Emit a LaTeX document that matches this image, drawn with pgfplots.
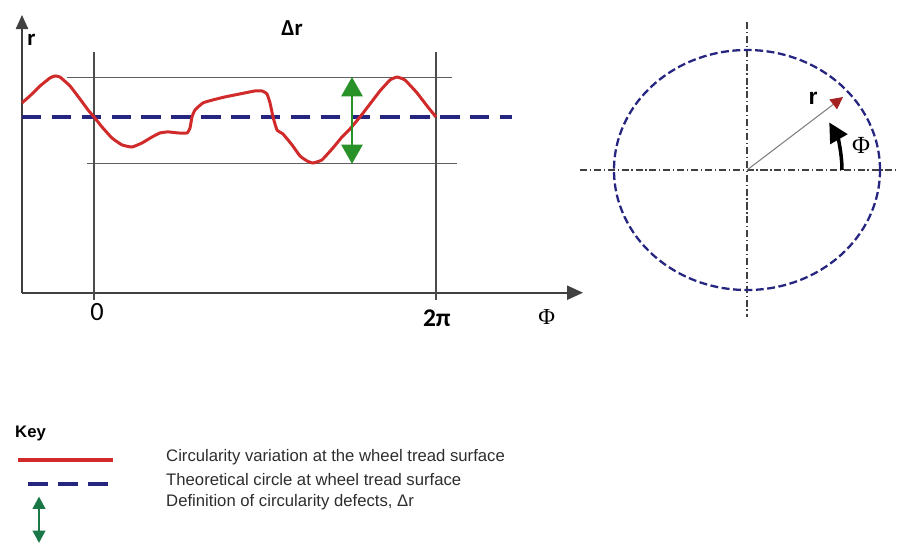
\documentclass[border=0pt]{standalone}
\usepackage{fontspec}
\setmainfont{Liberation Sans}
\newfontfamily\carlito{Carlito}
\newfontfamily\serifphi{Liberation Serif}
\usepackage{pgfplots}
\pgfplotsset{compat=1.18}
\usetikzlibrary{arrows.meta}

\definecolor{wavered}{RGB}{208,42,42}
\definecolor{navy}{RGB}{38,38,128}
\definecolor{arrowgreen}{RGB}{40,145,40}
\definecolor{keygreen}{RGB}{25,120,70}
\definecolor{guide}{RGB}{95,95,95}
\definecolor{txt}{RGB}{45,45,45}

\begin{document}
\begin{tikzpicture}
\useasboundingbox (0,0) rectangle (17.94cm,-10.84cm);

% left: radius over angle
\begin{axis}[
    at={(0.44cm,-5.854cm)}, anchor=south west,
    scale only axis, width=11.22cm, height=5.554cm,
    xmin=-1.323, xmax=8.984, ymin=0, ymax=1.580,
    axis lines=left, xtick=\empty, ytick=\empty,
    axis line style={line width=0.9pt, draw=black!75},
    x axis line style={-{Triangle[length=9pt,width=8pt]}},
    y axis line style={-{Triangle[length=8pt,width=7pt]}},
    clip=false,
]
\addplot[guide, line width=0.6pt] coordinates {(-0.496,1.227) (6.577,1.227)};
\addplot[guide, line width=0.6pt] coordinates {(-0.129,0.733) (6.669,0.733)};
\addplot[black!70, line width=0.7pt] coordinates {(0,1.370) (0,-0.042)};
\addplot[black!70, line width=0.7pt] coordinates {(6.283,1.370) (6.283,-0.042)};
\addplot[navy, line width=2.3pt, dash pattern=on 11pt off 6pt] coordinates {(-1.323,1) (7.680,1)};
\addplot[wavered, line width=1.7pt, smooth, tension=0.25] coordinates {
    (-1.323,1.080) (-1.176,1.120) (-0.992,1.176) (-0.808,1.222) (-0.717,1.233)
    (-0.625,1.227) (-0.441,1.176) (-0.257,1.102) (-0.110,1.040) (0,1.0)
    (0.147,0.943) (0.331,0.880) (0.514,0.841) (0.698,0.829) (0.882,0.852)
    (1.066,0.886) (1.213,0.909) (1.360,0.915) (1.543,0.909) (1.709,0.909)
    (1.764,0.937) (1.800,1.0) (1.856,1.040) (2.003,1.080) (2.186,1.097)
    (2.407,1.114) (2.682,1.131) (2.958,1.148) (3.087,1.148) (3.178,1.131)
    (3.234,1.080) (3.289,1.0) (3.362,0.926) (3.472,0.903) (3.638,0.841)
    (3.785,0.778) (3.913,0.750) (4.024,0.738) (4.189,0.756) (4.391,0.824)
    (4.556,0.886) (4.703,0.932) (4.887,1.0) (5.071,1.074) (5.254,1.148)
    (5.438,1.210) (5.567,1.227) (5.714,1.210) (5.934,1.137) (6.118,1.063)
    (6.283,1.0)};
\addplot[arrowgreen, line width=1.6pt,
    {Triangle[length=11pt,width=12pt]}-{Triangle[length=11pt,width=12pt]}]
    coordinates {(4.740,0.733) (4.740,1.227)};
\node[font=\carlito\bfseries\fontsize{13}{13}\selectfont] at (axis cs:-1.15,1.44) {r};
\node[font=\carlito\bfseries\fontsize{13}{13}\selectfont] at (axis cs:3.638,1.507) {Δr};
\node[font=\carlito\fontsize{15}{15}\selectfont] at (axis cs:0.055,-0.110) {0};
\node[font=\carlito\bfseries\fontsize{14.5}{15}\selectfont] at (axis cs:6.30,-0.144) {2π};
\node[font=\serifphi\fontsize{13}{13}\selectfont] at (axis cs:8.32,-0.138) {Φ};
\end{axis}

% right: the wheel circle
\begin{axis}[
    at={(11.6cm,-6.34cm)}, anchor=south west,
    scale only axis, width=6.34cm, height=5.9cm,
    xmin=-167, xmax=150, ymin=-147, ymax=148,
    hide axis, clip=false,
]
\addplot[black!75, line width=0.7pt, dash pattern=on 4pt off 1.6pt on 0.7pt off 1.6pt]
    coordinates {(-167,0) (150,0)};
\addplot[black!75, line width=0.7pt, dash pattern=on 4pt off 1.6pt on 0.7pt off 1.6pt]
    coordinates {(0,148) (0,-147)};
\draw[navy, line width=1.3pt, dash pattern=on 4.5pt off 2pt]
    (axis cs:0,0) ellipse [x radius=2.66cm, y radius=2.4cm];
\addplot[guide!80, line width=0.6pt, -{Triangle[length=7pt,width=7pt,color=wavered!80!black]}]
    coordinates {(0,0) (96,73)};
\draw[black, line width=2pt, -{Triangle[length=11pt,width=11pt]}]
    (axis cs:95,0) arc[start angle=0, end angle=30, radius=1.9cm];
\node[font=\bfseries\fontsize{13}{13}\selectfont] at (axis cs:66,72) {r};
\node[font=\serifphi\fontsize{14}{14}\selectfont] at (axis cs:114,25) {Φ};
\end{axis}

% key
\node[anchor=west, font=\bfseries\fontsize{9.5}{11}\selectfont] at (0.18cm,-8.66cm) {Key};
\draw[wavered, line width=2.3pt] (0.36cm,-9.2cm) -- (2.26cm,-9.2cm);
\draw[navy, line width=2.2pt, dash pattern=on 11.3pt off 5.7pt] (0.56cm,-9.68cm) -- (2.16cm,-9.68cm);
\draw[keygreen, line width=1.5pt, {Triangle[length=7pt,width=7pt]}-{Triangle[length=7pt,width=7pt]}]
    (0.78cm,-9.93cm) -- (0.78cm,-10.86cm);
\begin{scope}[every node/.style={anchor=west, text=txt, font=\fontsize{9.5}{11}\selectfont}]
\node at (3.2cm,-9.14cm) {Circularity variation at the wheel tread surface};
\node at (3.2cm,-9.6cm) {Theoretical circle at wheel tread surface};
\node at (3.2cm,-10.04cm) {Definition of circularity defects, Δr};
\end{scope}
\end{tikzpicture}
\end{document}
